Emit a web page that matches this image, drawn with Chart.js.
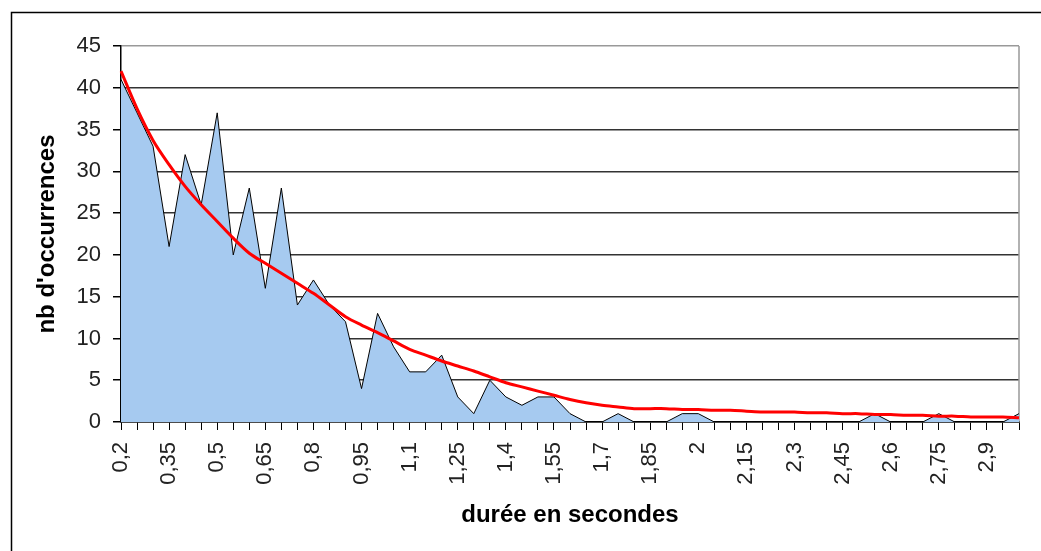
<!DOCTYPE html>
<html>
<head>
    <meta charset="utf-8">
    <script src="https://cdn.jsdelivr.net/npm/chart.js@4.4.0/dist/chart.umd.min.js"></script>
    <style>
        body { margin: 0; background: #fff; }
        #chart-container { width: 1041px; height: 551px; }
    </style>
</head>
<body>
    <div id="chart-container">
        <canvas id="myChart"></canvas>
    </div>
    <script>
        // durée en secondes (pas de 0,05)
        const durees = ['0,2', '0,25', '0,3', '0,35', '0,4', '0,45', '0,5', '0,55', '0,6', '0,65',
            '0,7', '0,75', '0,8', '0,85', '0,9', '0,95', '1', '1,05', '1,1', '1,15',
            '1,2', '1,25', '1,3', '1,35', '1,4', '1,45', '1,5', '1,55', '1,6', '1,65',
            '1,7', '1,75', '1,8', '1,85', '1,9', '1,95', '2', '2,05', '2,1', '2,15',
            '2,2', '2,25', '2,3', '2,35', '2,4', '2,45', '2,5', '2,55', '2,6', '2,65',
            '2,7', '2,75', '2,8', '2,85', '2,9', '2,95', '3'];

        // nb d'occurrences
        const occurrences = [41, 37, 33, 21, 32, 26, 37, 20, 28, 16,
            28, 14, 17, 14, 12, 4, 13, 9, 6, 6,
            8, 3, 1, 5, 3, 2, 3, 3, 1, 0,
            0, 1, 0, 0, 0, 1, 1, 0, 0, 0,
            0, 0, 0, 0, 0, 0, 0, 1, 0, 0,
            0, 1, 0, 0, 0, 0, 1];

        // courbe de tendance
        const tendance = [42, 37.5, 33.7, 30.8, 28.2, 26, 24, 22, 20.2, 19,
            17.8, 16.6, 15.4, 14, 12.6, 11.6, 10.7, 9.7, 8.7, 8,
            7.3, 6.7, 6.1, 5.4, 4.7, 4.2, 3.7, 3.2, 2.7, 2.3,
            2.0, 1.8, 1.6, 1.6, 1.6, 1.5, 1.5, 1.4, 1.4, 1.3,
            1.2, 1.2, 1.2, 1.1, 1.1, 1.0, 1.0, 0.9, 0.9, 0.8,
            0.8, 0.7, 0.7, 0.6, 0.6, 0.6, 0.5];

        const yTicks = [0, 5, 10, 15, 20, 25, 30, 35, 40, 45];

        const font = "'Liberation Sans', Arial, sans-serif";

        // cadre extérieur + bord droit de la zone de traçage
        const framePlugin = {
            id: 'frame',
            beforeDraw: function (chart) {
                const ctx = chart.ctx;
                ctx.save();
                ctx.fillStyle = '#fff';
                ctx.fillRect(0, 0, chart.width, chart.height);
                ctx.strokeStyle = '#000';
                ctx.lineWidth = 1.5;
                ctx.beginPath();
                ctx.moveTo(11.5, chart.height);
                ctx.lineTo(11.5, 12.5);
                ctx.lineTo(chart.width, 12.5);
                ctx.stroke();
                ctx.restore();
            },
            beforeDatasetsDraw: function (chart) {
                const a = chart.chartArea;
                const ctx = chart.ctx;
                ctx.save();
                ctx.strokeStyle = '#999';
                ctx.lineWidth = 1.5;
                ctx.beginPath();
                ctx.moveTo(a.right, a.top);
                ctx.lineTo(a.right, a.bottom);
                ctx.stroke();
                ctx.restore();
            }
        };

        const ctx = document.getElementById('myChart').getContext('2d');
        const myChart = new Chart(ctx, {
            type: 'line',
            data: {
                labels: durees,
                datasets: [
                    {
                        label: 'occurrences',
                        data: occurrences,
                        borderColor: '#000',
                        borderWidth: 1,
                        backgroundColor: '#A6CAF0',
                        fill: 'origin',
                        tension: 0,
                        pointRadius: 0,
                        order: 2
                    },
                    {
                        label: 'tendance',
                        data: tendance,
                        borderColor: '#FF0000',
                        borderWidth: 3,
                        fill: false,
                        tension: 0.3,
                        pointRadius: 0,
                        order: 1
                    }
                ]
            },
            options: {
                responsive: true,
                maintainAspectRatio: false,
                animation: false,
                layout: { padding: { left: 0, right: 22, top: 46, bottom: 0 } },
                plugins: {
                    legend: { display: false },
                    tooltip: { enabled: false }
                },
                scales: {
                    x: {
                        afterFit: function (scale) {
                            scale.height = 129;
                            scale.paddingRight = 0;
                            scale.paddingLeft = 0;
                        },
                        grid: {
                            drawOnChartArea: false,
                            drawTicks: true,
                            tickLength: 8,
                            tickColor: '#000'
                        },
                        border: { color: '#000', width: 1.5 },
                        ticks: {
                            autoSkip: false,
                            minRotation: 90,
                            maxRotation: 90,
                            padding: 12,
                            color: '#222',
                            font: { family: font, size: 22 },
                            callback: function (value, index) {
                                return index % 3 === 0 ? durees[index] : '';
                            }
                        },
                        title: {
                            display: true,
                            text: 'durée en secondes',
                            color: '#000',
                            font: { family: font, size: 24, weight: 'bold' },
                            padding: { top: 0, bottom: 21 }
                        }
                    },
                    y: {
                        min: 0,
                        max: 45,
                        afterFit: function (scale) { scale.width = 121; },
                        afterBuildTicks: function (scale) {
                            scale.ticks = yTicks.map(v => ({ value: v }));
                        },
                        grid: {
                            color: function (c) { return c.tick && c.tick.value === 45 ? '#999' : '#333'; },
                            lineWidth: 1.5,
                            drawTicks: true,
                            tickLength: 8,
                            tickColor: '#000'
                        },
                        border: { color: '#000', width: 1.5 },
                        ticks: {
                            padding: 12,
                            color: '#222',
                            font: { family: font, size: 22 }
                        },
                        title: {
                            display: true,
                            text: "nb d'occurrences",
                            color: '#000',
                            font: { family: font, size: 24, weight: 'bold' },
                            padding: { top: 33, bottom: 0 }
                        }
                    }
                }
            },
            plugins: [framePlugin]
        });
    </script>
</body>
</html>
